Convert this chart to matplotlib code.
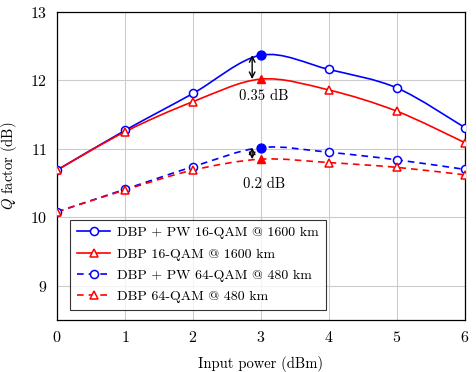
import numpy as np
import matplotlib
matplotlib.use("Agg")
import matplotlib.pyplot as plt
from matplotlib.path import Path
from matplotlib.patches import PathPatch
from matplotlib.lines import Line2D

plt.rcParams['font.family'] = 'serif'
plt.rcParams['font.serif'] = ['cmr10', 'DejaVu Serif']
plt.rcParams['mathtext.fontset'] = 'cm'
plt.rcParams['axes.formatter.use_mathtext'] = True

power = [0, 1, 2, 3, 4, 5, 6]
pw16 = [10.69, 11.27, 11.81, 12.37, 12.16, 11.89, 11.31]
dbp16 = [10.69, 11.25, 11.69, 12.02, 11.86, 11.55, 11.09]
pw64 = [10.08, 10.41, 10.74, 11.02, 10.95, 10.84, 10.70]
dbp64 = [10.08, 10.40, 10.69, 10.85, 10.80, 10.73, 10.62]
labels = ['DBP + PW 16-QAM @ 1600 km', 'DBP 16-QAM @ 1600 km',
          'DBP + PW 64-QAM @ 480 km', 'DBP 64-QAM @ 480 km']
gain_labels = ['0.35 dB', '0.2 dB']

fig = plt.figure(figsize=(4.76, 3.72), dpi=100)
ax = fig.add_axes([57/476, 1-320/372, (465-57)/476, (320-12)/372])


def smooth_path(x, y, k=0.16):
    x = np.asarray(x, float); y = np.asarray(y, float)
    n = len(x)
    verts = [(x[0], y[0])]
    codes = [Path.MOVETO]
    for i in range(n - 1):
        i0 = max(i - 1, 0); i3 = min(i + 2, n - 1)
        c1 = (x[i] + k * (x[i+1] - x[i0]), y[i] + k * (y[i+1] - y[i0]))
        c2 = (x[i+1] - k * (x[i3] - x[i]), y[i+1] - k * (y[i3] - y[i]))
        verts += [c1, c2, (x[i+1], y[i+1])]
        codes += [Path.CURVE4] * 3
    return Path(verts, codes)


series = [(pw16, 'blue', '-', 'o'), (dbp16, 'red', '-', '^'),
          (pw64, 'blue', (0, (4, 3)), 'o'), (dbp64, 'red', (0, (4, 3)), '^')]
handles = []
for (ys, c, ls, m), lab in zip(series, labels):
    ax.add_patch(PathPatch(smooth_path(power, ys), fill=False, edgecolor=c,
                           linestyle=ls, linewidth=1.2, zorder=3))
    px = [p for p in power if p != 3]
    py = [v for p, v in zip(power, ys) if p != 3]
    ms = 5.8 if m == 'o' else 5.2
    ax.plot(px, py, linestyle='none', marker=m, markersize=ms,
            markerfacecolor='white', markeredgecolor=c, markeredgewidth=1.1, zorder=4)
    ax.plot([3], [ys[3]], linestyle='none', marker=m, markersize=ms + 0.6,
            markerfacecolor=c, markeredgecolor=c, zorder=4)
    handles.append(Line2D([], [], color=c, linestyle=ls, linewidth=1.2, marker=m,
                          markersize=ms, markerfacecolor='white', markeredgecolor=c,
                          markeredgewidth=1.1))

for top, bot, lab, off in [(pw16[3], dbp16[3], gain_labels[0], 0.25),
                           (pw64[3], dbp64[3], gain_labels[1], 0.36)]:
    ax.annotate('', xy=(2.87, bot), xytext=(2.87, top),
                arrowprops=dict(arrowstyle='<->', color='black', lw=1.0,
                                shrinkA=0, shrinkB=0, mutation_scale=10), zorder=5)
    ax.text(3.04, bot - off, lab, ha='center', va='center', fontsize=10.5)

ax.set_xlim(0, 6)
ax.set_ylim(8.5, 13)
ax.set_xticks(power)
ax.set_yticks([9, 10, 11, 12, 13])
ax.tick_params(length=0, labelsize=11.5, pad=7)
ax.grid(True, color='#cccccc', linewidth=0.8)
ax.set_axisbelow(True)
for s in ax.spines.values():
    s.set_linewidth(0.9)
ax.set_xlabel('Input power (dBm)', fontsize=10.5, labelpad=8)
ax.set_ylabel('$Q$ factor (dB)', fontsize=10.5, labelpad=8)

leg = ax.legend(handles, labels, loc='lower left', bbox_to_anchor=(0.032, 0.032),
                fontsize=10, frameon=True, fancybox=False, edgecolor='black',
                handlelength=2.4, borderaxespad=0, labelspacing=0.62,
                borderpad=0.5, handletextpad=0.5)
leg.get_frame().set_linewidth(0.8)

fig.savefig('out.png', dpi=100)
